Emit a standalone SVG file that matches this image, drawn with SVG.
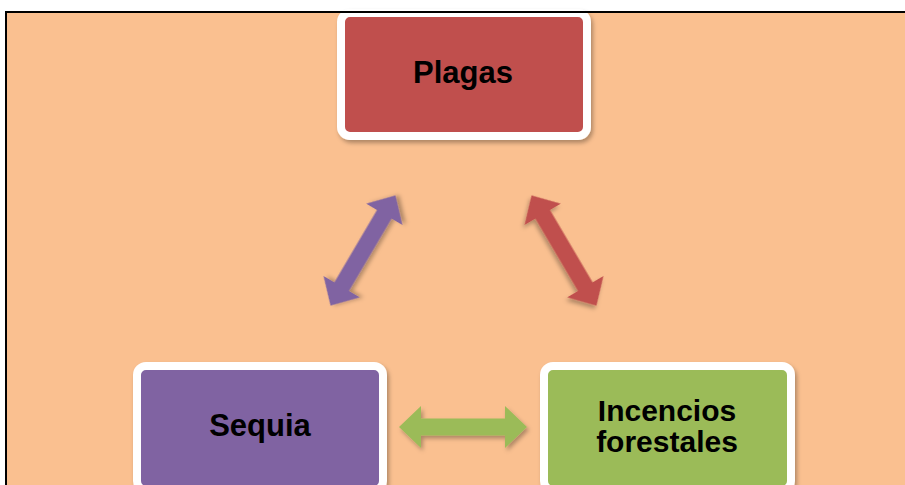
<svg xmlns="http://www.w3.org/2000/svg" width="905" height="485" viewBox="0 0 905 485">
<style>
.box{stroke:#FFFFFF;stroke-width:8;filter:url(#sh)}
.lbl{font-family:"Liberation Sans",Arial,sans-serif;font-weight:bold;font-size:31px;fill:#000000;text-anchor:middle}
.lbl2{font-size:30px}
.arr{filter:url(#sh)}
</style>
<defs>
<filter id="sh" x="-20%" y="-20%" width="140%" height="140%">
<feDropShadow dx="2" dy="3" stdDeviation="2" flood-color="#000000" flood-opacity="0.3"/>
</filter>
<polygon id="dbl" points="-64,0 -42,-21 -42,-8.5 42,-8.5 42,-21 64,0 42,21 42,8.5 -42,8.5 -42,21"/>
</defs>
<rect x="0" y="0" width="905" height="485" fill="#FFFFFF"/>
<rect x="6" y="12" width="899" height="473" fill="#FAC090"/>
<g id="connectors">
<use href="#dbl" class="arr" fill="#8064A2" transform="translate(363,250.5) rotate(-59.5)"/>
<use href="#dbl" class="arr" fill="#C0504D" transform="translate(564,250.5) rotate(59.5)"/>
<use href="#dbl" class="arr" fill="#9BBB59" transform="translate(463,427)"/>
</g>
<g id="plagas">
<rect class="box" x="341" y="13" width="246" height="123" rx="9" fill="#C0504D"/>
<text class="lbl" x="463" y="83">Plagas</text>
</g>
<g id="sequia">
<rect class="box" x="137" y="366" width="246" height="124" rx="9" fill="#8064A2"/>
<text class="lbl" x="260" y="436">Sequia</text>
</g>
<g id="incendios">
<rect class="box" x="544" y="366" width="247" height="124" rx="9" fill="#9BBB59"/>
<text class="lbl lbl2" x="667" y="421">Incencios</text>
<text class="lbl lbl2" x="667" y="452">forestales</text>
</g>
<g id="frame">
<line x1="5" y1="12" x2="905" y2="12" stroke="#000000" stroke-width="2"/>
<line x1="6" y1="11" x2="6" y2="485" stroke="#000000" stroke-width="2"/>
</g>
</svg>
